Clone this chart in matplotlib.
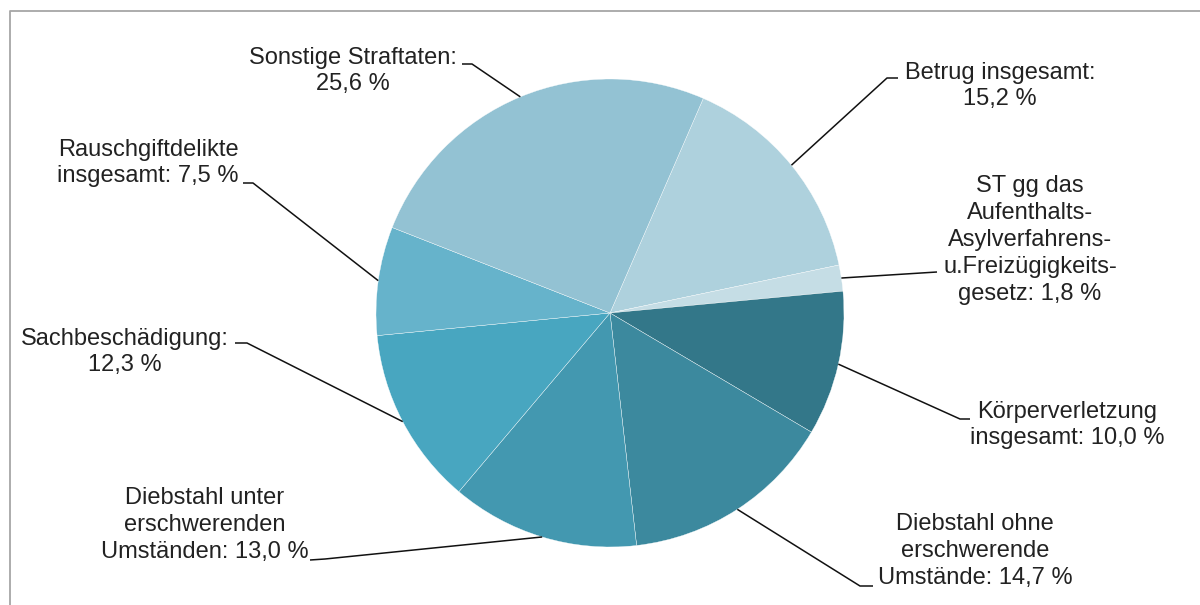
import numpy as np
import matplotlib.pyplot as plt

plt.rcParams['font.family'] = ['Liberation Sans', 'DejaVu Sans']

# Anteile der Straftaten (im Uhrzeigersinn ab "Betrug")
kategorien = [
    "Betrug insgesamt:\n",
    "ST gg das\nAufenthalts-\nAsylverfahrens-\nu.Freizügigkeits-\ngesetz: ",
    "Körperverletzung\ninsgesamt: ",
    "Diebstahl ohne\nerschwerende\nUmstände: ",
    "Diebstahl unter\nerschwerenden\nUmständen: ",
    "Sachbeschädigung:\n",
    "Rauschgiftdelikte\ninsgesamt: ",
    "Sonstige Straftaten:\n",
]
anteile = [15.2, 1.8, 10.0, 14.7, 13.0, 12.3, 7.5, 25.6]
farben = ["#aed1dd", "#c5dde5", "#337789", "#3c899e",
          "#4398b0", "#48a6c0", "#66b3cb", "#93c2d3"]

# Beschriftungspositionen in Pixeln (x, y von oben): Text, Knick, Stummelende
W, H = 1200, 605
text_pos = [(1000, 86), (1030, 240), (1067, 425), (975, 551),
            (205, 525), (125, 352), (148, 163), (353, 71)]
knick = [(887, 78), (937, 272), (960, 419), (860, 586),
         (325, 559), (247, 343), (253, 183), (472, 64)]
stummel = [(898, 78), (937, 272), (970, 419), (873, 586),
           (310, 560), (235, 343), (243, 183), (462, 64)]

mitte = (610, H - 313)
radius = 234

fig = plt.figure(figsize=(W / 100, H / 100), dpi=100)
ax = fig.add_axes([0, 0, 1, 1])

wedges, _ = ax.pie(anteile, colors=farben, startangle=66.5, counterclock=False,
                   center=mitte, radius=radius,
                   wedgeprops=dict(edgecolor="white", linewidth=0.25))

ax.set_xlim(0, W)
ax.set_ylim(0, H)
ax.set_aspect("equal")
ax.axis("off")

for w, name, wert, tp, kn, st in zip(wedges, kategorien, anteile, text_pos, knick, stummel):
    winkel = np.deg2rad((w.theta1 + w.theta2) / 2)
    x0 = mitte[0] + radius * np.cos(winkel)
    y0 = mitte[1] + radius * np.sin(winkel)
    ax.plot([x0, kn[0], st[0]], [y0, H - kn[1], H - st[1]],
            color="#111111", lw=1.1, solid_capstyle="butt")
    label = name + f"{wert:.1f} %".replace(".", ",")
    ax.text(tp[0], H - tp[1], label, ha="center", va="center",
            fontsize=17, color="#222222", linespacing=1.28)

# Rahmen oben und links
ax.plot([10, 10, W + 5], [-5, H - 11, H - 11], color="#a6a6a6", lw=1.3, clip_on=False)

fig.savefig("out.png", dpi=100)
